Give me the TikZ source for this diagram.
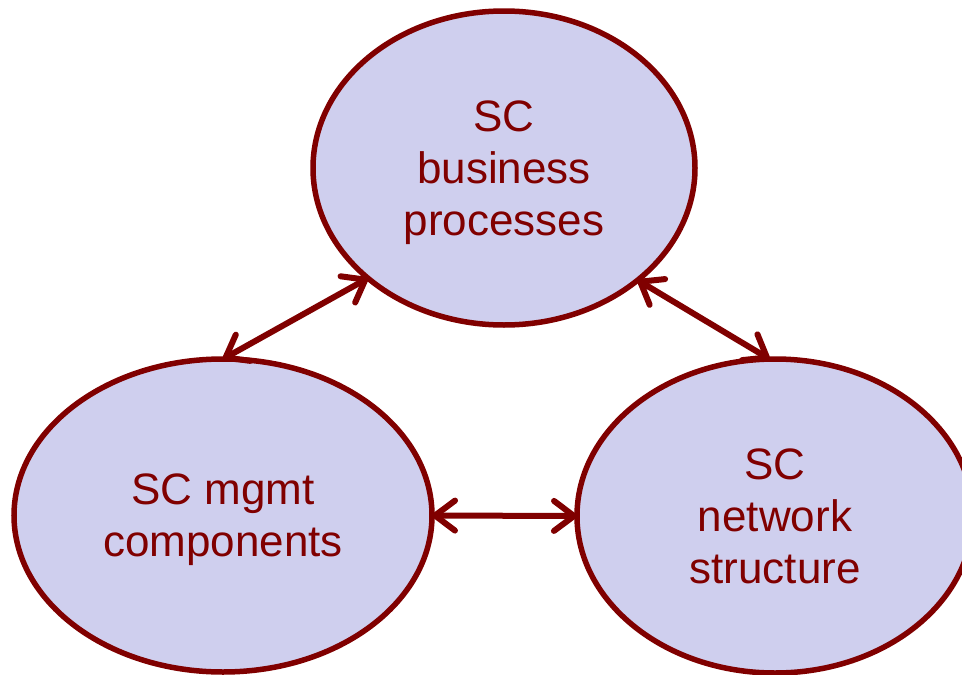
\documentclass[tikz,border=0pt]{standalone}
\usepackage{fontspec}
\setmainfont{Liberation Sans}
\usetikzlibrary{shapes.geometric,arrows.meta}
\definecolor{maroon}{HTML}{800000}
\definecolor{lav}{HTML}{CFCFEE}
\tikzset{
  bubble/.style={ellipse, draw=maroon, fill=lav, line width=5.5pt, inner sep=0pt, outer sep=0pt,
    text=maroon, align=center, text depth=0pt, font=\fontsize{44}{52}\selectfont},
  barbtip/.tip={Straight Barb[length=20pt,width=30pt,round]},
  link/.style={draw=maroon, line width=6pt, barbtip-barbtip}
}
\begin{document}
\begin{tikzpicture}[x=1pt,y=-1pt]
\useasboundingbox (0,0) rectangle (962,675);
\node[bubble, minimum width=382pt, minimum height=314pt] (top) at (504,168) {SC\\business\\processes};
\node[bubble, minimum width=418pt, minimum height=313pt] (left) at (223,515.5) {SC mgmt\\components};
\node[bubble, minimum width=396pt, minimum height=314pt] (right) at (775,516) {SC\\network\\structure};
\draw[link] (top.219) -- (left.north);
\draw[link] (top.320) -- (right.92);
\draw[link] (left.east) -- (right.west);
\end{tikzpicture}
\end{document}
